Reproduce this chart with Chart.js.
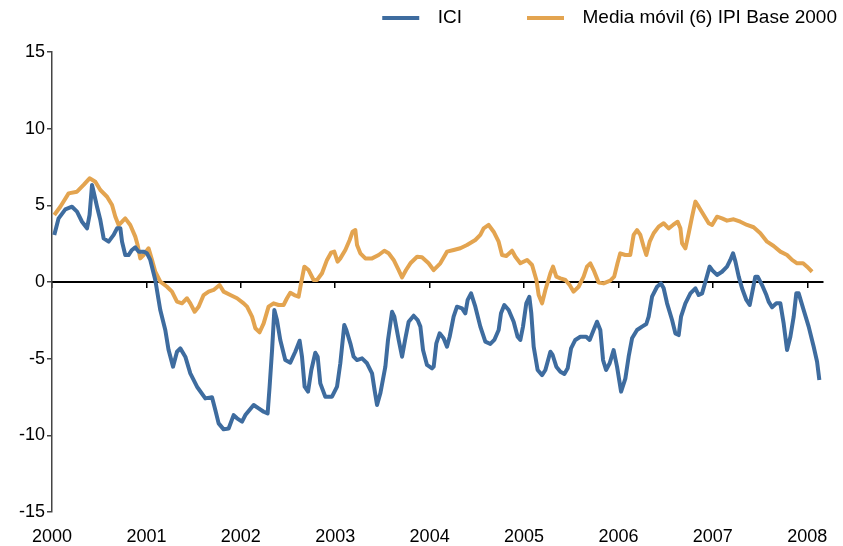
<!DOCTYPE html>
<html>
<head>
<meta charset="utf-8">
<script src="https://cdn.jsdelivr.net/npm/chart.js@4.4.1/dist/chart.umd.min.js"></script>
<style>
  html, body { margin: 0; padding: 0; background: #fff; }
</style>
</head>
<body>
<canvas id="chart" width="843" height="546"></canvas>
<script>
// Tick labels
const yearTicks = [2000, 2001, 2002, 2003, 2004, 2005, 2006, 2007, 2008];

// ICI (decimal year, value)
const iciDates = [
  2000.024, 2000.070, 2000.141, 2000.212, 2000.265, 2000.318, 2000.371, 2000.398, 2000.424, 2000.441,
  2000.477, 2000.512, 2000.547, 2000.600, 2000.653, 2000.689, 2000.724, 2000.742, 2000.776, 2000.811,
  2000.847, 2000.882, 2000.917, 2000.970, 2001.006, 2001.041, 2001.094, 2001.147, 2001.200, 2001.235,
  2001.282, 2001.324, 2001.359, 2001.412, 2001.465, 2001.536, 2001.624, 2001.695, 2001.730, 2001.765,
  2001.818, 2001.871, 2001.924, 2001.960, 2002.013, 2002.048, 2002.136, 2002.189, 2002.242, 2002.284,
  2002.305, 2002.331, 2002.355, 2002.383, 2002.418, 2002.471, 2002.524, 2002.577, 2002.623, 2002.648,
  2002.676, 2002.712, 2002.747, 2002.789, 2002.814, 2002.842, 2002.895, 2002.966, 2003.019, 2003.054,
  2003.096, 2003.118, 2003.160, 2003.195, 2003.231, 2003.284, 2003.337, 2003.390, 2003.417, 2003.443,
  2003.478, 2003.531, 2003.559, 2003.602, 2003.626, 2003.672, 2003.708, 2003.743, 2003.778, 2003.831,
  2003.873, 2003.902, 2003.930, 2003.972, 2004.025, 2004.043, 2004.071, 2004.106, 2004.148, 2004.184,
  2004.212, 2004.254, 2004.290, 2004.343, 2004.378, 2004.403, 2004.439, 2004.484, 2004.537, 2004.590,
  2004.643, 2004.685, 2004.731, 2004.756, 2004.791, 2004.837, 2004.890, 2004.932, 2004.961, 2004.989,
  2005.024, 2005.056, 2005.077, 2005.102, 2005.144, 2005.191, 2005.226, 2005.279, 2005.303, 2005.342,
  2005.385, 2005.427, 2005.462, 2005.498, 2005.543, 2005.596, 2005.659, 2005.695, 2005.737, 2005.773,
  2005.808, 2005.837, 2005.869, 2005.907, 2005.949, 2005.985, 2006.028, 2006.073, 2006.108, 2006.144,
  2006.197, 2006.250, 2006.295, 2006.320, 2006.356, 2006.409, 2006.451, 2006.479, 2006.515, 2006.568,
  2006.603, 2006.638, 2006.663, 2006.709, 2006.762, 2006.815, 2006.850, 2006.886, 2006.921, 2006.966,
  2006.992, 2007.044, 2007.097, 2007.150, 2007.185, 2007.214, 2007.239, 2007.274, 2007.309, 2007.355,
  2007.390, 2007.415, 2007.450, 2007.475, 2007.521, 2007.567, 2007.591, 2007.627, 2007.673, 2007.715,
  2007.750, 2007.786, 2007.821, 2007.856, 2007.884, 2007.909, 2007.962, 2008.015, 2008.068, 2008.104,
  2008.128
];
const iciValues = [
  3.07, 4.15, 4.74, 4.91, 4.59, 3.93, 3.50, 4.37, 6.33, 5.89,
  4.91, 4.04, 2.85, 2.63, 3.07, 3.50, 3.50, 2.63, 1.76, 1.76,
  2.09, 2.26, 1.98, 1.98, 1.87, 1.44, 0.13, -1.83, -3.13, -4.44,
  -5.52, -4.55, -4.33, -4.87, -5.96, -6.83, -7.59, -7.52, -8.35, -9.22,
  -9.61, -9.55, -8.68, -8.89, -9.11, -8.68, -8.02, -8.24, -8.46, -8.57,
  -6.83, -4.44, -1.83, -2.48, -3.78, -5.09, -5.26, -4.55, -3.83, -4.87,
  -6.83, -7.15, -5.74, -4.61, -4.87, -6.61, -7.48, -7.48, -6.83, -5.30,
  -2.80, -3.13, -4.00, -4.87, -5.09, -4.98, -5.30, -5.96, -7.05, -8.02,
  -7.26, -5.52, -3.78, -1.94, -2.26, -3.78, -4.87, -3.67, -2.59, -2.20,
  -2.48, -2.91, -4.44, -5.41, -5.63, -5.52, -4.00, -3.35, -3.67, -4.22,
  -3.57, -2.26, -1.61, -1.72, -2.04, -1.17, -0.74, -1.61, -2.91, -3.89,
  -4.04, -3.78, -3.13, -2.04, -1.50, -1.83, -2.59, -3.57, -3.78, -2.91,
  -1.39, -0.96, -2.04, -4.22, -5.74, -6.07, -5.74, -4.55, -4.76, -5.52,
  -5.85, -6.00, -5.63, -4.33, -3.78, -3.57, -3.57, -3.78, -3.13, -2.59,
  -3.13, -5.09, -5.74, -5.30, -4.44, -5.52, -7.15, -6.30, -4.87, -3.67,
  -3.13, -2.91, -2.74, -2.26, -0.96, -0.31, -0.09, -0.41, -1.39, -2.48,
  -3.35, -3.46, -2.26, -1.39, -0.74, -0.41, -0.85, -0.74, 0.02, 1.00,
  0.78, 0.46, 0.67, 1.00, 1.44, 1.87, 1.33, 0.35, -0.41, -1.17,
  -1.50, -0.74, 0.35, 0.35, -0.20, -0.85, -1.28, -1.65, -1.39, -1.39,
  -2.70, -4.44, -3.57, -2.26, -0.74, -0.74, -1.83, -2.91, -4.22, -5.20,
  -6.39
];

// Media móvil (6) IPI Base 2000 (decimal year, value)
const ipiDates = [
  2000.024, 2000.088, 2000.176, 2000.265, 2000.335, 2000.398, 2000.459, 2000.512, 2000.583, 2000.636,
  2000.671, 2000.706, 2000.742, 2000.776, 2000.829, 2000.882, 2000.907, 2000.935, 2000.970, 2001.023,
  2001.059, 2001.094, 2001.147, 2001.218, 2001.271, 2001.324, 2001.377, 2001.430, 2001.465, 2001.511,
  2001.553, 2001.606, 2001.659, 2001.712, 2001.775, 2001.818, 2001.889, 2001.960, 2002.030, 2002.066,
  2002.119, 2002.154, 2002.199, 2002.242, 2002.294, 2002.347, 2002.400, 2002.453, 2002.489, 2002.524,
  2002.567, 2002.612, 2002.638, 2002.673, 2002.718, 2002.771, 2002.807, 2002.860, 2002.913, 2002.956,
  2002.990, 2003.025, 2003.054, 2003.107, 2003.153, 2003.184, 2003.213, 2003.231, 2003.266, 2003.319,
  2003.390, 2003.460, 2003.520, 2003.566, 2003.619, 2003.672, 2003.708, 2003.750, 2003.796, 2003.867,
  2003.919, 2003.989, 2004.042, 2004.113, 2004.184, 2004.254, 2004.325, 2004.396, 2004.484, 2004.537,
  2004.572, 2004.625, 2004.678, 2004.731, 2004.767, 2004.812, 2004.873, 2004.908, 2004.961, 2005.032,
  2005.085, 2005.131, 2005.155, 2005.191, 2005.226, 2005.279, 2005.307, 2005.342, 2005.385, 2005.438,
  2005.483, 2005.525, 2005.578, 2005.631, 2005.667, 2005.702, 2005.737, 2005.790, 2005.843, 2005.913,
  2005.955, 2005.990, 2006.019, 2006.072, 2006.125, 2006.161, 2006.197, 2006.232, 2006.267, 2006.295,
  2006.331, 2006.373, 2006.426, 2006.479, 2006.532, 2006.578, 2006.627, 2006.656, 2006.674, 2006.709,
  2006.744, 2006.780, 2006.815, 2006.850, 2006.903, 2006.956, 2006.992, 2007.044, 2007.097, 2007.150,
  2007.220, 2007.291, 2007.362, 2007.432, 2007.503, 2007.574, 2007.644, 2007.715, 2007.786, 2007.839,
  2007.892, 2007.956, 2007.998, 2008.051
];
const ipiValues = [
  4.37, 4.91, 5.78, 5.89, 6.33, 6.76, 6.54, 6.00, 5.56, 5.02,
  4.26, 3.72, 3.93, 4.15, 3.72, 2.96, 2.41, 1.54, 1.76, 2.20,
  1.44, 0.67, 0.02, -0.31, -0.63, -1.28, -1.39, -1.06, -1.39, -1.94,
  -1.61, -0.85, -0.63, -0.52, -0.20, -0.63, -0.85, -1.06, -1.39, -1.61,
  -2.26, -3.02, -3.28, -2.70, -1.61, -1.39, -1.50, -1.50, -1.06, -0.70,
  -0.85, -0.96, -0.09, 1.00, 0.78, 0.13, 0.13, 0.57, 1.44, 1.91,
  1.98, 1.33, 1.54, 2.09, 2.74, 3.28, 3.39, 2.41, 1.87, 1.54,
  1.54, 1.76, 2.04, 1.87, 1.44, 0.78, 0.30, 0.78, 1.22, 1.65,
  1.61, 1.22, 0.78, 1.22, 1.98, 2.09, 2.20, 2.41, 2.74, 3.07,
  3.50, 3.72, 3.28, 2.63, 1.76, 1.70, 2.04, 1.65, 1.22, 1.44,
  1.11, 0.13, -0.85, -1.39, -0.52, 0.57, 1.00, 0.35, 0.24, 0.13,
  -0.20, -0.63, -0.31, 0.35, 1.00, 1.22, 0.78, -0.04, -0.09, 0.09,
  0.35, 1.22, 1.87, 1.76, 1.76, 3.07, 3.39, 3.07, 2.30, 1.76,
  2.63, 3.18, 3.61, 3.83, 3.50, 3.72, 3.93, 3.50, 2.52, 2.20,
  3.18, 4.26, 5.24, 4.91, 4.37, 3.83, 3.72, 4.26, 4.15, 4.00,
  4.09, 3.93, 3.72, 3.57, 3.18, 2.63, 2.35, 1.98, 1.76, 1.44,
  1.22, 1.22, 1.00, 0.67
];

const seriesNames = ['ICI', 'Media móvil (6) IPI Base 2000'];
const seriesColors = ['#3e6c9f', '#e3a450'];

// legend swatch: a short thick line drawn inside a wider transparent box
function legendLine(color) {
  const c = document.createElement('canvas');
  c.width = 105;
  c.height = 4;
  const g = c.getContext('2d');
  g.fillStyle = color;
  g.fillRect(59, 0, 37, 4);
  return c;
}

// ticks only on whole years (2008 included even though max is Feb 2008)
function yearTicksOnly(scale) {
  scale.ticks = yearTicks.map(v => ({ value: v }));
}

Chart.defaults.font.family = '"Liberation Sans", Arial, sans-serif';
Chart.defaults.color = '#000';

// extra room under the legend, and let the legend run to the right edge
const legendGap = {
  id: 'legendGap',
  beforeInit(chart) {
    const fit = chart.legend.fit;
    chart.legend.fit = function () {
      fit.call(this);
      this.height += 14.5;
    };
  },
  afterLayout(chart) {
    chart.legend.right = chart.width;
    chart.legend.width = chart.width - chart.legend.left;
  }
};

new Chart(document.getElementById('chart'), {
  type: 'line',
  data: {
    datasets: [
      {
        label: seriesNames[0],
        data: iciDates.map((d, i) => ({ x: d, y: iciValues[i] })),
        borderColor: seriesColors[0],
        backgroundColor: seriesColors[0],
        borderWidth: 4,
        pointRadius: 0,
        pointStyle: legendLine(seriesColors[0]),
        tension: 0,
        borderJoinStyle: 'round'
      },
      {
        label: seriesNames[1],
        data: ipiDates.map((d, i) => ({ x: d, y: ipiValues[i] })),
        borderColor: seriesColors[1],
        backgroundColor: seriesColors[1],
        borderWidth: 4,
        pointRadius: 0,
        pointStyle: legendLine(seriesColors[1]),
        tension: 0,
        borderJoinStyle: 'round'
      }
    ]
  },
  options: {
    responsive: false,
    animation: false,
    devicePixelRatio: 1,
    events: [],
    layout: { padding: { top: 2.5, right: 20, left: 0, bottom: 0 } },
    plugins: {
      tooltip: { enabled: false },
      legend: {
        position: 'top',
        align: 'end',
        labels: {
          usePointStyle: true,
          pointStyleWidth: 105,
          padding: 6,
          color: '#000',
          font: { size: 19 }
        }
      }
    },
    scales: {
      x: {
        type: 'linear',
        min: 2000,
        max: 2008.1667,
        afterBuildTicks: yearTicksOnly,
        afterFit: s => { s.height = 34; },
        grid: { display: false, drawTicks: false },
        border: { display: false },
        ticks: {
          padding: 14,
          maxRotation: 0,
          autoSkip: false,
          font: { size: 18 },
          callback: v => String(v)
        }
      },
      x2: {
        type: 'linear',
        axis: 'x',
        position: { y: 0 },
        min: 2000,
        max: 2008.1667,
        afterBuildTicks: yearTicksOnly,
        grid: { drawOnChartArea: false, drawTicks: true, tickLength: 5, color: '#000', lineWidth: 1.5 },
        border: { display: true, color: '#000', width: 2 },
        ticks: { display: false }
      },
      y: {
        min: -15,
        max: 15,
        afterFit: s => { s.width = 52; },
        grid: { drawOnChartArea: false, drawTicks: true, tickLength: 5, color: '#444', lineWidth: 1.5 },
        border: { display: true, color: '#444', width: 1.5 },
        ticks: { stepSize: 5, padding: 2, font: { size: 18 } }
      }
    }
  },
  plugins: [legendGap]
});
</script>
</body>
</html>
